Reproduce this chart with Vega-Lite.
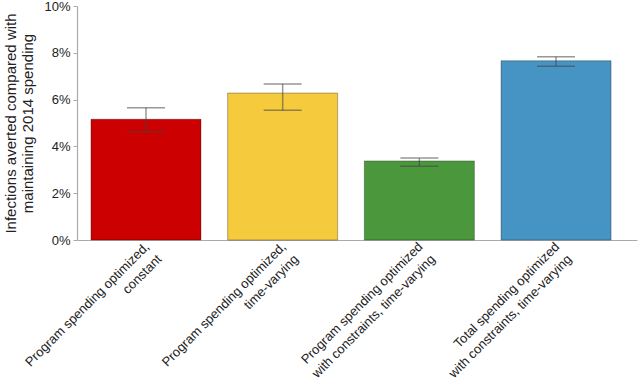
{
  "$schema": "https://vega.github.io/schema/vega-lite/v6.json",
  "autosize": "none",
  "width": 560,
  "height": 234,
  "padding": {"left": 77, "top": 6, "right": 3, "bottom": 141},
  "background": "white",
  "config": {
    "font": "Liberation Sans",
    "view": {"stroke": null}
  },
  "data": {
    "values": [
      {"scenario": "Program spending optimized,|constant", "value": 0.0516, "lo": 0.0463, "hi": 0.0565, "color": "#CC0000"},
      {"scenario": "Program spending optimized,|time-varying", "value": 0.0628, "lo": 0.0554, "hi": 0.0667, "color": "#F5CB3D"},
      {"scenario": "Program spending optimized|with constraints, time-varying", "value": 0.0338, "lo": 0.0315, "hi": 0.0350, "color": "#4A973C"},
      {"scenario": "Total spending optimized|with constraints, time-varying", "value": 0.0766, "lo": 0.0742, "hi": 0.0783, "color": "#4694C4"}
    ]
  },
  "encoding": {
    "x": {
      "field": "scenario",
      "type": "nominal",
      "sort": null,
      "scale": {"paddingInner": 0.195, "paddingOuter": 0.146, "align": 0.35},
      "axis": {
        "title": null,
        "labelAngle": -45,
        "labelAlign": "right",
        "labelBaseline": "top",
        "labelExpr": "split(datum.label, '|')",
        "labelFontSize": 13,
        "labelLineHeight": 17.5,
        "labelColor": "#222",
        "labelPadding": 0,
        "labelOffset": -3,
        "ticks": false,
        "domainColor": "#aaaaaa",
        "domainWidth": 1.2,
        "labelLimit": 400
      }
    }
  },
  "layer": [
    {
      "mark": {"type": "bar", "stroke": "#000", "strokeOpacity": 0.3, "strokeWidth": 1},
      "encoding": {
        "y": {
          "field": "value",
          "type": "quantitative",
          "scale": {"domain": [0, 0.1]},
          "axis": {
            "title": ["Infections averted compared with", "maintaining 2014 spending"],
            "titleFontSize": 15,
            "titleFontWeight": "normal",
            "titleColor": "#222",
            "titlePadding": 8,
            "titleLineHeight": 17,
            "format": ".0%",
            "values": [0, 0.02, 0.04, 0.06, 0.08, 0.1],
            "labelFontSize": 13,
            "labelColor": "#222",
            "labelPadding": 3,
            "grid": false,
            "tickSize": 4,
            "tickColor": "#aaaaaa",
            "domainColor": "#aaaaaa",
            "domainWidth": 1.2
          }
        },
        "color": {"field": "color", "type": "nominal", "scale": null}
      }
    },
    {
      "mark": {"type": "rule", "color": "#444", "opacity": 0.55, "strokeWidth": 1.5},
      "encoding": {
        "y": {"field": "lo", "type": "quantitative"},
        "y2": {"field": "hi"}
      }
    },
    {
      "mark": {"type": "tick", "color": "#444", "opacity": 0.55, "size": 38, "thickness": 1.5},
      "encoding": {
        "y": {"field": "lo", "type": "quantitative"}
      }
    },
    {
      "mark": {"type": "tick", "color": "#444", "opacity": 0.55, "size": 38, "thickness": 1.5},
      "encoding": {
        "y": {"field": "hi", "type": "quantitative"}
      }
    }
  ]
}
